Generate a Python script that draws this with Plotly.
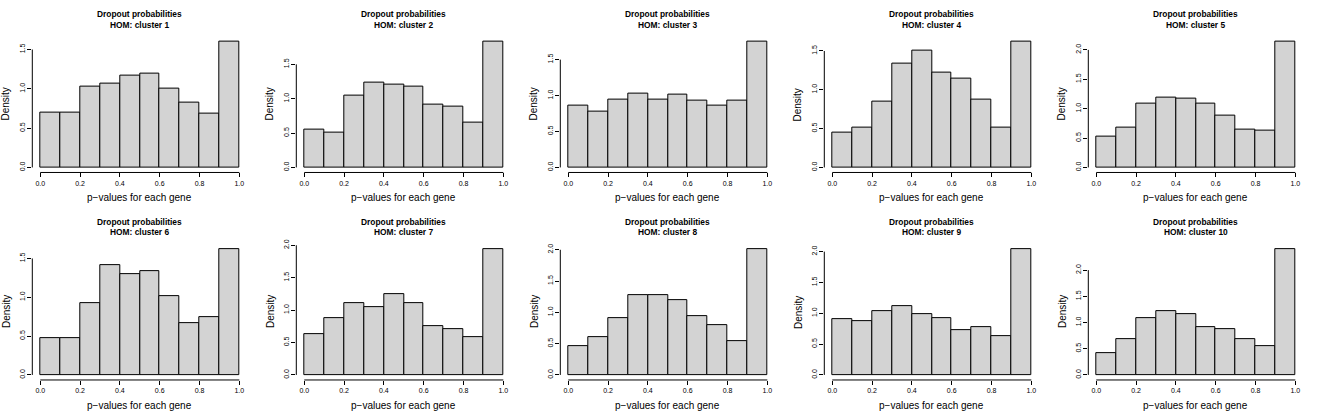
import plotly.graph_objects as go

# ---------------- data ----------------
bin_edges = [0.0, 0.1, 0.2, 0.3, 0.4, 0.5, 0.6, 0.7, 0.8, 0.9, 1.0]
cluster_names = ["HOM: cluster 1", "HOM: cluster 2", "HOM: cluster 3", "HOM: cluster 4",
                 "HOM: cluster 5", "HOM: cluster 6", "HOM: cluster 7", "HOM: cluster 8",
                 "HOM: cluster 9", "HOM: cluster 10"]
main_title = "Dropout probabilities"
x_label = "p\u2212values for each gene"
y_label = "Density"

density_c1 = [0.70, 0.70, 1.03, 1.07, 1.17, 1.19, 1.00, 0.83, 0.69, 1.60]
density_c2 = [0.55, 0.50, 1.05, 1.24, 1.21, 1.17, 0.92, 0.88, 0.65, 1.83]
density_c3 = [0.86, 0.78, 0.95, 1.03, 0.95, 1.02, 0.93, 0.86, 0.93, 1.75]
density_c4 = [0.45, 0.51, 0.85, 1.34, 1.51, 1.22, 1.14, 0.87, 0.51, 1.62]
density_c5 = [0.52, 0.67, 1.08, 1.18, 1.17, 1.08, 0.89, 0.64, 0.62, 2.14]
density_c6 = [0.48, 0.48, 0.93, 1.42, 1.30, 1.34, 1.02, 0.67, 0.75, 1.62]
density_c7 = [0.63, 0.87, 1.11, 1.05, 1.24, 1.11, 0.76, 0.70, 0.58, 1.94]
density_c8 = [0.46, 0.61, 0.91, 1.28, 1.27, 1.19, 0.94, 0.79, 0.54, 2.01]
density_c9 = [0.90, 0.87, 1.03, 1.11, 0.98, 0.92, 0.72, 0.78, 0.63, 2.04]
density_c10 = [0.41, 0.69, 1.09, 1.21, 1.17, 0.91, 0.88, 0.68, 0.55, 2.40]
densities = [density_c1, density_c2, density_c3, density_c4, density_c5,
             density_c6, density_c7, density_c8, density_c9, density_c10]

x_ticks = [0.0, 0.2, 0.4, 0.6, 0.8, 1.0]
x_tick_labels = ["0.0", "0.2", "0.4", "0.6", "0.8", "1.0"]
y_ticks_all = [0.0, 0.5, 1.0, 1.5, 2.0]
y_tick_labels_all = ["0.0", "0.5", "1.0", "1.5", "2.0"]

# ---------------- layout geometry (pixels) ----------------
W, H = 1320, 420
ncol = 5
panel_w, panel_h = 264, 210
plot_l, plot_r = 32.3, 247.3
plot_t, plot_b = 32.0, 169.5

FONT = "Liberation Sans, Arial, Helvetica, sans-serif"

fig = go.Figure()
annotations = []
shapes = []

for i, dens in enumerate(densities):
    r, c = divmod(i, ncol)
    n = i + 1
    xa = "x" if n == 1 else f"x{n}"
    ya = "y" if n == 1 else f"y{n}"
    centers = [(bin_edges[k] + bin_edges[k + 1]) / 2 for k in range(len(dens))]
    widths = [bin_edges[k + 1] - bin_edges[k] for k in range(len(dens))]
    fig.add_trace(go.Bar(
        x=centers, y=dens, width=widths,
        marker=dict(color="#D3D3D3", line=dict(color="#000000", width=1)),
        xaxis=xa, yaxis=ya, showlegend=False, hoverinfo="x+y",
    ))

    ymax = max(dens)
    yrng = [-0.04 * ymax, 1.04 * ymax]
    xrng = [bin_edges[0] - 0.04 * (bin_edges[-1] - bin_edges[0]),
            bin_edges[-1] + 0.04 * (bin_edges[-1] - bin_edges[0])]
    yt = [v for v in y_ticks_all if v <= yrng[1]]
    ytl = [y_tick_labels_all[k] for k, v in enumerate(y_ticks_all) if v <= yrng[1]]

    x0p = c * panel_w + plot_l
    x1p = c * panel_w + plot_r
    y0p = r * panel_h + plot_t
    y1p = r * panel_h + plot_b
    xdom = [x0p / W, x1p / W]
    ydom = [1 - y1p / H, 1 - y0p / H]

    axkey_x = "xaxis" if n == 1 else f"xaxis{n}"
    axkey_y = "yaxis" if n == 1 else f"yaxis{n}"
    fig.layout[axkey_x] = dict(
        domain=xdom, range=xrng, anchor=ya, showgrid=False, zeroline=False,
        showline=False, ticks="outside", ticklen=4, tickwidth=1, tickcolor="#000",
        tickvals=x_ticks, ticktext=x_tick_labels,
        tickfont=dict(family=FONT, size=7, color="#000"), fixedrange=True,
    )
    fig.layout[axkey_y] = dict(
        domain=ydom, range=yrng, anchor=xa, showgrid=False, zeroline=False,
        showline=False, ticks="outside", ticklen=4, tickwidth=1, tickcolor="#000",
        tickvals=yt, ticktext=ytl, tickangle=-90,
        tickfont=dict(family=FONT, size=7, color="#000"), fixedrange=True,
    )
    # R-style axis lines spanning first to last tick
    shapes.append(dict(type="line", xref=xa, yref=f"{ya} domain",
                       x0=x_ticks[0], x1=x_ticks[-1], y0=0, y1=0,
                       line=dict(color="#000", width=1)))
    shapes.append(dict(type="line", xref=f"{xa} domain", yref=ya,
                       x0=0, x1=0, y0=yt[0], y1=yt[-1],
                       line=dict(color="#000", width=1)))

    cx = (x0p + x1p) / 2 / W
    # titles
    annotations.append(dict(text=f"<b>{main_title}</b>", xref="paper", yref="paper",
                            x=cx, y=1 - (r * panel_h + 9.5) / H, xanchor="center", yanchor="middle",
                            showarrow=False, font=dict(family=FONT, size=8.4, color="#000")))
    annotations.append(dict(text=f"<b>{cluster_names[i]}</b>", xref="paper", yref="paper",
                            x=cx, y=1 - (r * panel_h + 20) / H, xanchor="center", yanchor="middle",
                            showarrow=False, font=dict(family=FONT, size=8.4, color="#000")))
    annotations.append(dict(text=x_label, xref="paper", yref="paper",
                            x=cx, y=1 - (r * panel_h + 195) / H, xanchor="center", yanchor="middle",
                            showarrow=False, font=dict(family=FONT, size=10, color="#000")))
    annotations.append(dict(text=y_label, xref="paper", yref="paper", textangle=-90,
                            x=(c * panel_w + 6) / W, y=1 - ((y0p + y1p) / 2) / H,
                            xanchor="center", yanchor="middle",
                            showarrow=False, font=dict(family=FONT, size=10, color="#000")))

fig.update_layout(
    width=W, height=H, margin=dict(l=0, r=0, t=0, b=0),
    paper_bgcolor="#FFFFFF", plot_bgcolor="#FFFFFF",
    bargap=0, annotations=annotations, shapes=shapes,
    font=dict(family=FONT, color="#000"),
)

fig.write_html("out.html", config={"displayModeBar": False},
               post_script="document.body.style.margin='0';document.body.style.overflow='hidden';")
